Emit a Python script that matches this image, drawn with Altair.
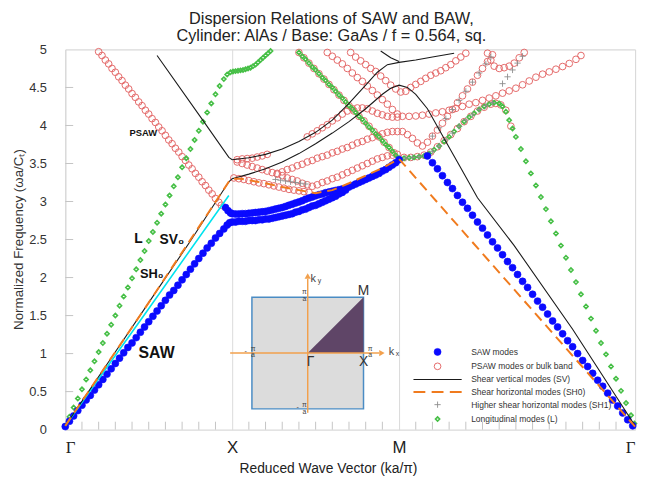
import altair as alt
import pandas as pd

# ---------------- categories / labels ----------------
SERIES = ["SAW modes", "PSAW modes or bulk band", "Shear vertical modes (SV)",
          "Shear horizontal modes (SH0)", "Higher shear horizontal modes (SH1)",
          "Longitudinal modes (L)"]
K_POS = [0.0, 1.0, 2.0, 3.4142]
K_LAB = ["Γ", "X", "M", "Γ"]
Y_TICKS = [0, 0.5, 1, 1.5, 2, 2.5, 3, 3.5, 4, 4.5, 5]
MINOR_X = [0.1, 0.2, 0.3, 0.4, 0.5, 0.6, 0.7, 0.8, 0.9, 1.1, 1.2, 1.3, 1.4, 1.5, 1.6,
           1.7, 1.8, 1.9, 2.1, 2.2, 2.3, 2.4, 2.5, 2.6, 2.7, 2.8, 2.9, 3.0, 3.1, 3.2,
           3.3, 3.4]
MINOR_Y = [0.5, 1, 1.5, 2, 2.5, 3, 3.5, 4, 4.5]

# ---------------- SAW modes ----------------
saw_gx = [(0.000, 0.04), (0.025, 0.11), (0.050, 0.18), (0.075, 0.25), (0.100, 0.32), (0.125, 0.39),
          (0.150, 0.45), (0.175, 0.52), (0.200, 0.59), (0.225, 0.66), (0.250, 0.73), (0.275, 0.80),
          (0.300, 0.87), (0.325, 0.94), (0.350, 1.01), (0.375, 1.08), (0.400, 1.14), (0.425, 1.21),
          (0.450, 1.28), (0.475, 1.35), (0.500, 1.42), (0.525, 1.49), (0.550, 1.56), (0.575, 1.63),
          (0.600, 1.70), (0.625, 1.77), (0.650, 1.83), (0.675, 1.90), (0.700, 1.97), (0.725, 2.04),
          (0.750, 2.11), (0.775, 2.18), (0.800, 2.25), (0.825, 2.32), (0.850, 2.39), (0.875, 2.45),
          (0.900, 2.52), (0.925, 2.58), (0.950, 2.64), (0.970, 2.69), (0.985, 2.72), (1.000, 2.73)]
saw_xm_lower = [(1.02, 2.73), (1.04, 2.74), (1.06, 2.74), (1.08, 2.74), (1.10, 2.75), (1.12, 2.75),
                (1.14, 2.75), (1.16, 2.76), (1.18, 2.76), (1.20, 2.77), (1.22, 2.77), (1.24, 2.78),
                (1.26, 2.79), (1.28, 2.80), (1.30, 2.81), (1.32, 2.82), (1.34, 2.83), (1.36, 2.84),
                (1.38, 2.86), (1.40, 2.87), (1.42, 2.89), (1.44, 2.90), (1.46, 2.92), (1.48, 2.94),
                (1.50, 2.95), (1.52, 2.97), (1.54, 2.99), (1.56, 3.01), (1.58, 3.03), (1.60, 3.05),
                (1.62, 3.07), (1.64, 3.10), (1.66, 3.12), (1.68, 3.15)]
saw_xm_upper = [(0.96, 2.92), (0.975, 2.88), (0.99, 2.85), (1.00, 2.84), (1.02, 2.835), (1.04, 2.835),
                (1.06, 2.84), (1.08, 2.84), (1.10, 2.845), (1.12, 2.85), (1.14, 2.855), (1.16, 2.86),
                (1.18, 2.865), (1.20, 2.87), (1.22, 2.88), (1.24, 2.89), (1.26, 2.90), (1.28, 2.91),
                (1.30, 2.92), (1.32, 2.935), (1.34, 2.95), (1.36, 2.965), (1.38, 2.98), (1.40, 2.995),
                (1.42, 3.01), (1.44, 3.03), (1.46, 3.045), (1.48, 3.06), (1.50, 3.075), (1.52, 3.09),
                (1.54, 3.10), (1.56, 3.115), (1.58, 3.125), (1.60, 3.135), (1.62, 3.145), (1.64, 3.155),
                (1.66, 3.165), (1.68, 3.175)]
saw_xm_merged = [(1.70, 3.19), (1.72, 3.21), (1.74, 3.23), (1.76, 3.25), (1.78, 3.27), (1.80, 3.29),
                 (1.82, 3.31), (1.84, 3.33), (1.86, 3.35), (1.88, 3.37), (1.90, 3.40), (1.92, 3.42),
                 (1.94, 3.45), (1.96, 3.48), (1.98, 3.51), (2.00, 3.55)]
saw_mg = [(2.17, 3.60), (2.20, 3.51), (2.23, 3.43), (2.26, 3.34), (2.29, 3.25), (2.32, 3.17),
          (2.35, 3.08), (2.38, 2.99), (2.41, 2.91), (2.44, 2.82), (2.47, 2.73), (2.50, 2.65),
          (2.53, 2.56), (2.56, 2.47), (2.59, 2.39), (2.62, 2.30), (2.65, 2.21), (2.68, 2.13),
          (2.71, 2.04), (2.74, 1.95), (2.77, 1.87), (2.80, 1.78), (2.83, 1.69), (2.86, 1.61),
          (2.89, 1.52), (2.92, 1.43), (2.95, 1.35), (2.98, 1.26), (3.01, 1.17), (3.04, 1.09),
          (3.07, 1.00), (3.10, 0.91), (3.13, 0.83), (3.16, 0.74), (3.19, 0.65), (3.22, 0.57),
          (3.25, 0.48), (3.28, 0.39), (3.31, 0.31), (3.34, 0.22), (3.37, 0.13), (3.40, 0.05)]

# ---------------- PSAW modes / bulk band ----------------
p_gx = [(0.20, 4.97), (0.22, 4.92), (0.24, 4.86), (0.26, 4.81), (0.28, 4.75), (0.30, 4.70), (0.32, 4.64),
        (0.34, 4.59), (0.36, 4.53), (0.38, 4.48), (0.40, 4.42), (0.42, 4.37), (0.44, 4.31), (0.46, 4.26),
        (0.48, 4.20), (0.50, 4.15), (0.52, 4.09), (0.54, 4.04), (0.56, 3.98), (0.58, 3.93), (0.60, 3.87),
        (0.62, 3.81), (0.64, 3.76), (0.66, 3.70), (0.68, 3.65), (0.70, 3.59), (0.72, 3.54), (0.74, 3.48),
        (0.76, 3.43), (0.78, 3.37), (0.80, 3.32), (0.82, 3.26), (0.84, 3.21), (0.86, 3.15), (0.88, 3.10),
        (0.90, 3.04), (0.92, 2.99), (0.935, 2.95)]
p_ub1 = [(1.03, 3.55), (1.06, 3.56), (1.09, 3.565), (1.12, 3.57), (1.15, 3.585), (1.18, 3.60), (1.21, 3.62)]
p_ub2 = [(1.45, 3.85), (1.48, 3.89), (1.51, 3.93), (1.54, 3.97), (1.57, 4.01), (1.60, 4.06), (1.63, 4.10),
         (1.66, 4.15), (1.69, 4.19), (1.72, 4.22), (1.75, 4.23), (1.78, 4.23), (1.81, 4.22), (1.84, 4.19),
         (1.87, 4.16), (1.90, 4.14), (1.93, 4.12), (1.96, 4.11), (1.99, 4.11)]
p_mg_long = [(2.02, 4.12), (2.06, 4.12), (2.10, 4.125), (2.14, 4.135), (2.18, 4.15), (2.22, 4.165),
             (2.26, 4.18), (2.30, 4.20), (2.34, 4.225), (2.38, 4.25), (2.42, 4.28), (2.46, 4.30),
             (2.50, 4.33), (2.54, 4.36), (2.58, 4.39), (2.62, 4.425), (2.66, 4.455), (2.70, 4.49),
             (2.74, 4.535), (2.78, 4.585), (2.82, 4.635), (2.86, 4.675), (2.90, 4.705), (2.94, 4.74),
             (2.98, 4.775), (3.02, 4.815), (3.06, 4.87), (3.09, 4.92)]
p_b1 = [(1.40, 4.96), (1.43, 4.89), (1.46, 4.82), (1.49, 4.75), (1.52, 4.68), (1.55, 4.61), (1.58, 4.54),
        (1.61, 4.47), (1.64, 4.40), (1.67, 4.33), (1.70, 4.26), (1.73, 4.19), (1.76, 4.12), (1.79, 4.06),
        (1.82, 3.99), (1.85, 3.92), (1.88, 3.85), (1.91, 3.78), (1.94, 3.71), (1.97, 3.64)]
p_b2 = [(1.57, 4.96), (1.60, 4.91), (1.63, 4.86), (1.66, 4.81), (1.69, 4.75), (1.72, 4.69), (1.75, 4.63),
        (1.78, 4.58), (1.81, 4.52), (1.84, 4.46), (1.87, 4.40), (1.90, 4.34), (1.93, 4.28), (1.96, 4.21),
        (1.99, 4.15)]
p_b3 = [(1.71, 4.96), (1.74, 4.90), (1.77, 4.85), (1.80, 4.80), (1.83, 4.75), (1.86, 4.71), (1.89, 4.65),
        (1.92, 4.59), (1.95, 4.53), (1.98, 4.48), (2.01, 4.44), (2.04, 4.45), (2.07, 4.50), (2.10, 4.54),
        (2.13, 4.58), (2.16, 4.62), (2.19, 4.66), (2.22, 4.69), (2.25, 4.72), (2.28, 4.76), (2.31, 4.80),
        (2.34, 4.85), (2.37, 4.90), (2.40, 4.95)]
p_c = [(2.02, 3.92), (2.05, 3.88), (2.08, 3.83), (2.11, 3.77), (2.14, 3.73), (2.17, 3.78), (2.20, 3.86),
       (2.23, 3.94), (2.26, 4.03), (2.29, 4.12), (2.32, 4.21), (2.35, 4.30), (2.38, 4.39), (2.41, 4.48),
       (2.44, 4.57), (2.47, 4.66), (2.50, 4.75), (2.53, 4.84), (2.56, 4.93)]
p_d = [(2.53, 4.95), (2.55, 4.86), (2.57, 4.78), (2.60, 4.75), (2.63, 4.76), (2.66, 4.78), (2.69, 4.82),
       (2.72, 4.89), (2.75, 4.96)]
p_e = [(2.55, 4.28), (2.58, 4.29), (2.61, 4.27), (2.64, 4.20), (2.67, 3.99)]
p_f = [(2.03, 3.58), (2.07, 3.58), (2.11, 3.59), (2.15, 3.61), (2.19, 3.65), (2.23, 3.72), (2.27, 3.80),
       (2.31, 3.88), (2.35, 3.96), (2.39, 4.05), (2.43, 4.12), (2.47, 4.19), (2.51, 4.24)]
p_x1 = [(1.01, 3.31), (1.04, 3.30), (1.07, 3.29), (1.10, 3.275), (1.13, 3.26), (1.16, 3.245), (1.19, 3.235),
        (1.22, 3.22), (1.25, 3.205), (1.28, 3.19), (1.31, 3.175), (1.34, 3.16), (1.37, 3.15), (1.40, 3.14),
        (1.43, 3.13), (1.46, 3.12)]
p_x2 = [(1.03, 3.52), (1.06, 3.50), (1.09, 3.48), (1.12, 3.46), (1.15, 3.44), (1.18, 3.42), (1.21, 3.40),
        (1.24, 3.38), (1.27, 3.36), (1.30, 3.34), (1.33, 3.31), (1.36, 3.29), (1.39, 3.27), (1.42, 3.24),
        (1.45, 3.22), (1.48, 3.20)]
p_fan_a = [(1.27, 3.37), (1.30, 3.39), (1.33, 3.42), (1.36, 3.44), (1.39, 3.47), (1.42, 3.49), (1.45, 3.52),
           (1.48, 3.54), (1.51, 3.57), (1.54, 3.59), (1.57, 3.61), (1.60, 3.64), (1.63, 3.66), (1.66, 3.69),
           (1.69, 3.71), (1.72, 3.74), (1.75, 3.77), (1.78, 3.79), (1.81, 3.82), (1.84, 3.84), (1.87, 3.87),
           (1.90, 3.89), (1.93, 3.91), (1.96, 3.92), (1.99, 3.92)]
p_fan_b = [(1.51, 3.22), (1.54, 3.25), (1.57, 3.27), (1.60, 3.30), (1.63, 3.32), (1.66, 3.35), (1.69, 3.38),
           (1.72, 3.41), (1.75, 3.44), (1.78, 3.47), (1.81, 3.50), (1.84, 3.53), (1.87, 3.56), (1.90, 3.58),
           (1.93, 3.60), (1.96, 3.61), (1.99, 3.62)]

# ---------------- Longitudinal modes ----------------
l_gx = [(0.000, 0.05), (0.025, 0.17), (0.050, 0.29), (0.075, 0.41), (0.100, 0.53), (0.125, 0.66),
        (0.150, 0.78), (0.175, 0.90), (0.200, 1.02), (0.225, 1.14), (0.250, 1.26), (0.275, 1.38),
        (0.300, 1.50), (0.325, 1.63), (0.350, 1.75), (0.375, 1.87), (0.400, 1.99), (0.425, 2.11),
        (0.450, 2.23), (0.475, 2.35), (0.500, 2.48), (0.525, 2.60), (0.550, 2.72), (0.575, 2.84),
        (0.600, 2.96), (0.625, 3.08), (0.650, 3.20), (0.675, 3.32), (0.700, 3.45), (0.725, 3.57),
        (0.750, 3.69), (0.775, 3.81), (0.800, 3.93), (0.825, 4.05), (0.850, 4.17), (0.875, 4.29),
        (0.900, 4.41), (0.925, 4.52), (0.950, 4.61), (0.970, 4.67), (0.990, 4.70)]
l_xm_flat = [(1.005, 4.71), (1.02, 4.715), (1.035, 4.72), (1.05, 4.725), (1.065, 4.73), (1.08, 4.74),
             (1.095, 4.75), (1.11, 4.76), (1.125, 4.78), (1.14, 4.80), (1.155, 4.83), (1.17, 4.86),
             (1.185, 4.89), (1.20, 4.92), (1.215, 4.95), (1.23, 4.98)]
l_xm_desc = [(1.40, 4.96), (1.42, 4.91), (1.44, 4.87), (1.46, 4.82), (1.48, 4.77), (1.50, 4.73), (1.52, 4.68),
             (1.54, 4.63), (1.56, 4.59), (1.58, 4.54), (1.60, 4.50), (1.62, 4.45), (1.64, 4.40), (1.66, 4.36),
             (1.68, 4.31), (1.70, 4.26), (1.72, 4.22), (1.74, 4.17), (1.76, 4.12), (1.78, 4.08), (1.80, 4.03),
             (1.82, 3.98), (1.84, 3.94), (1.86, 3.89), (1.88, 3.85), (1.90, 3.80), (1.92, 3.75), (1.94, 3.71),
             (1.96, 3.66), (1.98, 3.61), (2.00, 3.57)]
l_mg = [(2.03, 3.57), (2.06, 3.575), (2.09, 3.58), (2.12, 3.59), (2.15, 3.60), (2.18, 3.63), (2.21, 3.68),
        (2.24, 3.73), (2.27, 3.79), (2.30, 3.85), (2.33, 3.92), (2.36, 3.99), (2.39, 4.05), (2.42, 4.11),
        (2.45, 4.16), (2.48, 4.21), (2.51, 4.25), (2.54, 4.28), (2.57, 4.30), (2.60, 4.29), (2.62, 4.25),
        (2.64, 4.18), (2.66, 4.07), (2.68, 3.96), (2.70, 3.85), (2.73, 3.69), (2.76, 3.53), (2.79, 3.37),
        (2.82, 3.21), (2.85, 3.06), (2.88, 2.90), (2.91, 2.74), (2.94, 2.58), (2.97, 2.42), (3.00, 2.26),
        (3.03, 2.10), (3.06, 1.94), (3.09, 1.78), (3.12, 1.62), (3.15, 1.46), (3.18, 1.30), (3.21, 1.14),
        (3.24, 0.99), (3.27, 0.83), (3.30, 0.67), (3.33, 0.51), (3.36, 0.35), (3.39, 0.19), (3.41, 0.08)]

# ---------------- Higher shear horizontal modes ----------------
sh1_a = [(1.26, 3.29), (1.29, 3.28), (1.32, 3.27), (1.35, 3.26), (1.38, 3.25), (1.41, 3.24), (1.44, 3.23)]
sh1_b = [(2.04, 3.57), (2.08, 3.58), (2.12, 3.59), (2.16, 3.61), (2.20, 3.66), (2.24, 3.73), (2.28, 3.81),
         (2.32, 3.90), (2.36, 3.99), (2.40, 4.07), (2.44, 4.14), (2.48, 4.21), (2.52, 4.26), (2.56, 4.30)]
sh1_c = [(2.20, 3.86), (2.24, 3.97), (2.28, 4.09), (2.32, 4.21), (2.36, 4.33), (2.40, 4.45), (2.44, 4.57),
         (2.48, 4.69), (2.52, 4.81), (2.55, 4.90)]
sh1_d = [(2.62, 4.55), (2.65, 4.64), (2.68, 4.73), (2.71, 4.82), (2.74, 4.91)]

# ---------------- line modes ----------------
sv_low = [(0.0, 0.05), (0.25, 0.86), (0.5, 1.67), (0.75, 2.48), (0.98, 3.26), (1.0, 3.30), (1.1, 3.36),
          (1.2, 3.43), (1.3, 3.52), (1.4, 3.63), (1.5, 3.76), (1.6, 3.90), (1.7, 4.05), (1.8, 4.22),
          (1.9, 4.41), (1.95, 4.49), (2.0, 4.53), (2.05, 4.50), (2.1, 4.41), (2.17, 4.22), (2.27, 3.83),
          (2.37, 3.44), (2.47, 3.05), (2.69, 2.42), (3.04, 1.32), (3.4142, 0.05)]
sv_up = [(0.55, 4.92), (0.83, 4.05), (0.98, 3.58), (1.0, 3.55), (1.1, 3.575), (1.2, 3.62), (1.3, 3.69),
         (1.4, 3.79), (1.5, 3.91), (1.6, 4.07), (1.7, 4.29), (1.8, 4.53), (1.87, 4.70), (1.93, 4.80),
         (2.0, 4.83), (2.1, 4.86), (2.2, 4.90), (2.33, 4.95)]
sv_top = [(1.89, 4.98), (1.95, 4.89), (2.0, 4.84)]
sh0 = [(0.0, 0.05), (0.5, 1.67), (0.98, 3.26), (1.0, 3.30), (1.05, 3.30), (1.2, 3.24), (1.3, 3.19),
       (1.4, 3.15), (1.5, 3.11), (1.6, 3.15), (1.7, 3.24), (1.8, 3.34), (1.9, 3.44), (2.0, 3.56),
       (3.4142, 0.04)]
cyan_line = [(0.0, 0.05), (0.49, 1.56), (0.98, 3.08)]

# ---------------- annotations ----------------
ANN = [("PSAW", 0.467, 3.90), ("L", 0.438, 2.51), ("SV\u2080", 0.639, 2.49),
       ("SH\u2080", 0.518, 2.04), ("SAW", 0.547, 1.01)]
ANN_FS = {"PSAW": 9.5, "L": 14, "SV\u2080": 14, "SH\u2080": 13, "SAW": 16}

# ---------------- Brillouin-zone inset (units of pi/a) ----------------
bz_square = [(-1.0, 1.0, -1.0, 1.0)]
bz_wedge = [(0.0, 0.0), (1.0, 1.0)]
bz_axes = [(-1.39, 1.28, 0.0, 0.0), (0.0, 0.0, -1.07, 1.33)]
bz_arrows = [(1.33, 0.0, "triangle-right"), (0.0, 1.38, "triangle-up")]
bz_points = [("M", 1.0, 1.11), ("X", 1.0, -0.16), ("Γ", 0.05, -0.16)]
bz_k = [("k", 0.10, 1.33), ("k", 1.50, 0.02)]
bz_ksub = [("y", 0.21, 1.29), ("x", 1.61, -0.02)]
bz_pia = [("π\na", -0.06, 1.09), ("π\na", -0.06, -0.93), ("π\na", -0.98, 0.08), ("π\na", 1.12, 0.08)]
bz_minus = [("-", -1.11, 0.04), ("-", -0.18, -0.97)]

# ---------------- styles ----------------
SHAPES = ["circle", "circle", "M-6.1,0H6.1", "M-6.1,0H-3.1M-1.5,0H1.5M3.1,0H6.1",
          "M-1,0H1M0,-1V1", "diamond"]
FILLS = ["#0a0aff", "transparent", "transparent", "transparent", "transparent", "transparent"]
STROKES = ["#0a0aff", "#e46a6a", "#1a1a1a", "#f07b1e", "#8c8c8c", "#46bf46"]
SIZES = [50, 46, 64, 64, 40, 18]
SWS = [0.6, 1.0, 1.1, 2.0, 0.9, 1.6]
FONT = "Liberation Sans"

rows = []
def add(series, pts, branch):
    for i, (x, y) in enumerate(pts):
        rows.append({"x": x, "y": y, "series": series, "branch": branch, "idx": i})

for k, pts in enumerate([p_gx, p_ub1, p_ub2, p_mg_long, p_b1, p_b2, p_b3, p_c, p_d, p_e, p_f,
                         p_x1, p_x2, p_fan_a, p_fan_b]):
    add(SERIES[1], pts, f"p{k}")
for k, pts in enumerate([l_gx, l_xm_flat, l_xm_desc, l_mg]):
    add(SERIES[5], pts, f"l{k}")
for k, pts in enumerate([sh1_a, sh1_b, sh1_c, sh1_d]):
    add(SERIES[4], pts, f"h{k}")
for k, pts in enumerate([saw_gx, saw_xm_lower, saw_xm_upper, saw_xm_merged, saw_mg]):
    add(SERIES[0], pts, f"s{k}")
df_pts = pd.DataFrame(rows)

rows = []
for k, pts in enumerate([sv_low, sv_up, sv_top]):
    add(SERIES[2], pts, f"v{k}")
df_sv = pd.DataFrame(rows)
rows = []
add(SERIES[3], sh0, "sh0")
df_sh0 = pd.DataFrame(rows)
df_cyan = pd.DataFrame([{"x": x, "y": y, "idx": i} for i, (x, y) in enumerate(cyan_line)])

LEG = alt.Legend(title=None, orient="none", legendX=372, legendY=302, direction="vertical",
                 labelFontSize=8.6, labelColor="#333333", labelFont=FONT, labelOffset=29,
                 rowPadding=2.6, padding=0, labelLimit=400)

XS = alt.Scale(domain=[0, 3.4142], nice=False, zero=False)
YS = alt.Scale(domain=[0, 5], nice=False, zero=False)
XAX = alt.Axis(values=K_POS, labelExpr="datum.value < 0.5 ? 'Γ' : datum.value < 1.5 ? 'X' : datum.value < 2.5 ? 'M' : 'Γ'",
               grid=True, gridColor="#dadada", ticks=False, tickSize=0, domain=False,
               labelFontSize=17, labelColor="#222222", labelPadding=10,
               labelFont={"condition": {"test": "datum.value < 0.5 || datum.value > 2.5", "value": "Liberation Serif"}, "value": FONT},
               title="Reduced Wave Vector (ka/π)", titleFont=FONT, titleFontSize=14,
               titleFontWeight="normal", titleColor="#222222", titleX=266, titleY=32,
               titleBaseline="top")
YAX = alt.Axis(values=Y_TICKS, format="~g", grid=False, ticks=False, tickSize=0, domain=False,
               labelFontSize=13, labelColor="#333333", labelFont=FONT, labelPadding=19,
               title="Normalized Frequency (ωa/Cₜ)", titleFont=FONT, titleFontSize=13.5,
               titleFontWeight="normal", titleColor="#333333", titleX=-40, titleY=192)
xe = alt.X("x:Q", scale=XS, axis=XAX)
ye = alt.Y("y:Q", scale=YS, axis=YAX)

def sc(rng, t=None):
    if t:
        return alt.Scale(domain=SERIES, range=rng, type=t)
    return alt.Scale(domain=SERIES, range=rng)

tick_x = alt.Chart(pd.DataFrame({"x": MINOR_X})).mark_rule(color="#c4c4c4", strokeWidth=1).encode(
    x=xe, y=alt.value(385), y2=alt.value(377))
tick_y = alt.Chart(pd.DataFrame({"y": MINOR_Y})).mark_rule(color="#c4c4c4", strokeWidth=1).encode(
    y=ye, x=alt.value(0), x2=alt.value(8))

pts = alt.Chart(df_pts).mark_point(opacity=1, filled=False).encode(
    x=xe, y=ye,
    shape=alt.Shape("series:N", scale=sc(SHAPES), legend=LEG),
    fill=alt.Fill("series:N", scale=sc(FILLS), legend=LEG),
    stroke=alt.Stroke("series:N", scale=sc(STROKES), legend=LEG),
    size=alt.Size("series:N", scale=sc(SIZES, "ordinal"), legend=LEG),
    strokeWidth=alt.StrokeWidth("series:N", scale=sc(SWS, "ordinal"), legend=LEG),
)
cyan = alt.Chart(df_cyan).mark_line(color="#00e3ee", strokeWidth=1.6).encode(
    x=xe, y=ye, order="idx:Q")
sv = alt.Chart(df_sv).mark_line(strokeWidth=1.1).encode(
    x=xe, y=ye, detail="branch:N", order="idx:Q",
    stroke=alt.Stroke("series:N", scale=sc(STROKES), legend=LEG))
sh = alt.Chart(df_sh0).mark_line(strokeWidth=2, strokeDash=[10, 6]).encode(
    x=xe, y=ye, order="idx:Q",
    stroke=alt.Stroke("series:N", scale=sc(STROKES), legend=LEG))

ann_layers = []
for lab, ax_, ay_ in ANN:
    ann_layers.append(
        alt.Chart(pd.DataFrame([{"label": lab, "x": ax_, "y": ay_}])).mark_text(
            font=FONT, fontWeight="bold", fontSize=ANN_FS[lab], color="#111111",
            baseline="middle", align="center").encode(x=xe, y=ye, text="label:N"))

main = alt.layer(tick_x, tick_y, pts, cyan, sv, sh, *ann_layers)

# inset
KXS = alt.Scale(domain=[-4.345, 5.867], nice=False, zero=False)
KYS = alt.Scale(domain=[-1.372, 5.442], nice=False, zero=False)
kx = lambda f="kx": alt.X(f + ":Q", scale=KXS, axis=None)
ky = lambda f="ky": alt.Y(f + ":Q", scale=KYS, axis=None)
ORANGE = "#f2a04c"

sq = alt.Chart(pd.DataFrame(bz_square, columns=["kx", "kx2", "ky", "ky2"])).mark_rect(
    fill="#dcdcdc", stroke="#4a8cc4", strokeWidth=1.5).encode(
    x=kx(), x2="kx2:Q", y=ky(), y2="ky2:Q")
wedge = alt.Chart(pd.DataFrame(bz_wedge, columns=["kx", "ky"]).assign(ky0=0.0)).mark_area(
    color="#5f4567", opacity=1).encode(x=kx(), y=ky(), y2="ky0:Q")
axes = alt.Chart(pd.DataFrame(bz_axes, columns=["kx", "kx2", "ky", "ky2"])).mark_rule(
    color=ORANGE, strokeWidth=1.5).encode(x=kx(), x2="kx2:Q", y=ky(), y2="ky2:Q")
arrows = alt.Chart(pd.DataFrame(bz_arrows, columns=["kx", "ky", "shp"])).mark_point(
    filled=True, color=ORANGE, size=40, opacity=1).encode(
    x=kx(), y=ky(), shape=alt.Shape("shp:N", scale=None, legend=None))
ptlab = alt.Chart(pd.DataFrame(bz_points, columns=["t", "kx", "ky"])).mark_text(
    font=FONT, fontSize=14, color="#333333", baseline="middle").encode(x=kx(), y=ky(), text="t:N")
klab = alt.Chart(pd.DataFrame(bz_k, columns=["t", "kx", "ky"])).mark_text(
    font=FONT, fontSize=11, color="#444444", baseline="middle").encode(x=kx(), y=ky(), text="t:N")
ksub = alt.Chart(pd.DataFrame(bz_ksub, columns=["t", "kx", "ky"])).mark_text(
    font=FONT, fontSize=7, color="#444444", baseline="middle").encode(x=kx(), y=ky(), text="t:N")
pia = alt.Chart(pd.DataFrame(bz_pia, columns=["t", "kx", "ky"])).mark_text(
    font=FONT, fontSize=7, lineHeight=7, lineBreak="\n", color="#444444", baseline="middle").encode(
    x=kx(), y=ky(), text="t:N")
minus = alt.Chart(pd.DataFrame(bz_minus, columns=["t", "kx", "ky"])).mark_text(
    font=FONT, fontSize=7, color="#444444", baseline="middle").encode(x=kx(), y=ky(), text="t:N")

inset = alt.layer(sq, wedge, axes, arrows, ptlab, klab, ksub, pia, minus)

chart = alt.layer(main, inset).resolve_scale(x="independent", y="independent").properties(
    width=577, height=385,
    title=alt.TitleParams(text=["Dispersion Relations of SAW and BAW,",
                                "Cylinder: AlAs / Base: GaAs / f = 0.564, sq."],
                          font=FONT, fontSize=16.5, fontWeight="normal", color="#222222",
                          anchor="middle", dx=-19, dy=3, offset=2, lineHeight=17),
    autosize=alt.AutoSizeParams(type="none"),
    padding={"left": 58, "top": 39, "right": 6, "bottom": 44},
).configure_view(stroke="#cfcfcf", strokeWidth=1)

chart.save("out.html", embed_options={"renderer": "svg", "actions": False})
